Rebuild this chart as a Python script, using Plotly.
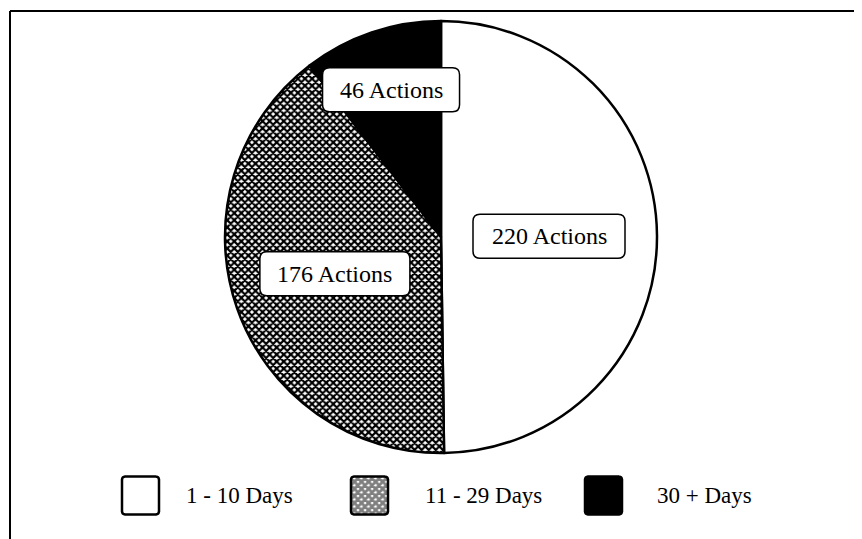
import math
import plotly.graph_objects as go

# ---- data ----
categories = ["1 - 10 Days", "11 - 29 Days", "30 + Days"]
actions = [220, 176, 46]
slice_labels = ["220 Actions", "176 Actions", "46 Actions"]

# ---- style / layout ----
PAGE_MARGIN = 8                      # default body margin of the html page
W, H = 862 - PAGE_MARGIN, 539 - PAGE_MARGIN
OX = OY = PAGE_MARGIN                # convert window px -> figure px
CX, CY, R = 441 - OX, 237 - OY, 216
FONT = "Liberation Serif, Times New Roman, serif"
label_radius = [0.5, 0.52, 0.72]
label_box_w = [152, 150, 137]
label_box_h = 44
legend_box_x = [122 - OX, 351 - OX, 585 - OX]
legend_text_x = [184 - OX, 423 - OX, 655 - OX]
legend_y = 495 - OY
legend_box = 37

fills = ["white", "white", "black"]
pattern_shapes = ["", "x", ""]
HATCH = dict(fgcolor="black", size=5, solidity=0.68)
LEGEND_HATCH = dict(fgcolor="black", size=5, solidity=0.8)

fig = go.Figure()

fig.add_trace(go.Pie(
    values=actions,
    labels=categories,
    sort=False,
    direction="clockwise",
    rotation=0,
    textinfo="none",
    hoverinfo="label+value",
    showlegend=False,
    marker=dict(colors=fills, line=dict(color="black", width=2.5),
                pattern=dict(shape=pattern_shapes, **HATCH)),
    domain=dict(x=[(CX - R) / W, (CX + R) / W], y=[(H - CY - R) / H, (H - CY + R) / H]),
))


def rounded_rect(x0, y0, x1, y1, r):
    return (f"M {x0+r},{y0} L {x1-r},{y0} Q {x1},{y0} {x1},{y0+r} "
            f"L {x1},{y1-r} Q {x1},{y1} {x1-r},{y1} L {x0+r},{y1} "
            f"Q {x0},{y1} {x0},{y1-r} L {x0},{y0+r} Q {x0},{y0} {x0+r},{y0} Z")


def rounded_poly(x0, y0, x1, y1, r, n=5):
    xs, ys = [], []
    corners = [(x1 - r, y0 + r, -90, 0), (x1 - r, y1 - r, 0, 90),
               (x0 + r, y1 - r, 90, 180), (x0 + r, y0 + r, 180, 270)]
    for ccx, ccy, a0, a1 in corners:
        for k in range(n + 1):
            a = math.radians(a0 + (a1 - a0) * k / n)
            xs.append(ccx + r * math.cos(a))
            ys.append(ccy + r * math.sin(a))
    xs.append(xs[0]); ys.append(ys[0])
    return xs, ys


shapes = []
annotations = []

# slice labels positioned from the data's cumulative angles
total = sum(actions)
cum = 0
for i, v in enumerate(actions):
    mid = (cum + v / 2) / total * 2 * math.pi
    cum += v
    lx = CX + label_radius[i] * R * math.sin(mid)
    ly = CY - label_radius[i] * R * math.cos(mid)
    bw = label_box_w[i]
    shapes.append(dict(type="path", xref="x", yref="y", layer="above",
                       path=rounded_rect(lx - bw / 2, ly - label_box_h / 2, lx + bw / 2, ly + label_box_h / 2, 7),
                       fillcolor="white", line=dict(color="black", width=1.5)))
    annotations.append(dict(x=lx, y=ly, xref="x", yref="y", text=slice_labels[i], showarrow=False,
                            font=dict(family=FONT, size=24, color="black"), xanchor="center", yanchor="middle"))

# custom legend
for i, name in enumerate(categories):
    x0 = legend_box_x[i]
    y0 = legend_y - legend_box / 2
    xs, ys = rounded_poly(x0, y0, x0 + legend_box, y0 + legend_box + 1, 3)
    kw = {}
    if pattern_shapes[i]:
        kw["fillpattern"] = dict(shape=pattern_shapes[i], bgcolor="white", **LEGEND_HATCH)
    fig.add_trace(go.Scatter(x=xs, y=ys, mode="lines", fill="toself", fillcolor=fills[i],
                             line=dict(color="black", width=2.5), showlegend=False, hoverinfo="skip",
                             xaxis="x", yaxis="y", **kw))
    annotations.append(dict(x=legend_text_x[i], y=legend_y, xref="x", yref="y", text=name, showarrow=False,
                            font=dict(family=FONT, size=23, color="black"), xanchor="left", yanchor="middle"))

# frame (top and left edges)
shapes.append(dict(type="line", xref="x", yref="y", x0=10 - OX, y0=11 - OY, x1=W, y1=11 - OY,
                   line=dict(color="black", width=2)))
shapes.append(dict(type="line", xref="x", yref="y", x0=10 - OX, y0=11 - OY, x1=10 - OX, y1=H,
                   line=dict(color="black", width=2)))

fig.update_layout(
    width=W, height=H,
    margin=dict(l=0, r=0, t=0, b=0),
    paper_bgcolor="white", plot_bgcolor="rgba(0,0,0,0)",
    xaxis=dict(range=[0, W], visible=False, fixedrange=True, domain=[0, 1]),
    yaxis=dict(range=[H, 0], visible=False, fixedrange=True, domain=[0, 1]),
    shapes=shapes,
    annotations=annotations,
    showlegend=False,
)

fig.write_html("out.html")
